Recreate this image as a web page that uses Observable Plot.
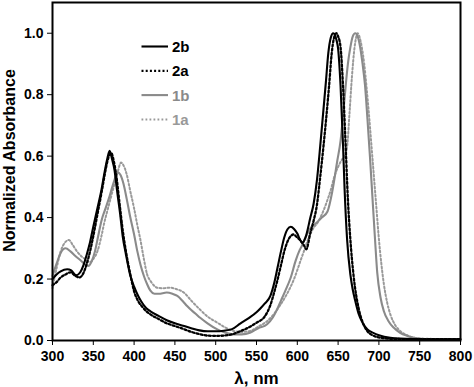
<!DOCTYPE html>
<html>
<head>
<meta charset="utf-8">
<script src="https://cdn.jsdelivr.net/npm/d3@7"></script>
<script src="https://cdn.jsdelivr.net/npm/@observablehq/plot@0.6"></script>
<style>
  html, body { margin: 0; padding: 0; background: #fff; }
  #chart { width: 474px; height: 387px; }
</style>
</head>
<body>
<div id="chart"></div>
<script>
// ---- Data ----
const seriesNames = ["2b", "2a", "1b", "1a"];

const lambda2b = [300,305,310,318,323,329,334,338,342,346,350,355,360,364,367,370,373,376,379,383,386,390,395,400,405,410,415,420,430,440,450,460,470,480,490,500,510,520,530,540,550,555,560,567,572,576,580,584,588,592,596,600,603,606,610,616,620,624,628,632,635,638,641,644,646,648,650,653,656,658,661,665,668,671,675,680,686,693,700,714,742,770,800];
const abs2b    = [0.200,0.215,0.225,0.232,0.228,0.212,0.222,0.245,0.280,0.320,0.370,0.430,0.490,0.550,0.590,0.617,0.590,0.555,0.490,0.410,0.340,0.280,0.215,0.175,0.145,0.122,0.105,0.095,0.080,0.066,0.056,0.048,0.040,0.033,0.030,0.030,0.032,0.037,0.055,0.072,0.092,0.105,0.120,0.145,0.190,0.240,0.290,0.335,0.362,0.370,0.363,0.348,0.330,0.318,0.335,0.400,0.445,0.520,0.630,0.750,0.840,0.935,0.985,1.000,0.995,0.978,0.950,0.830,0.640,0.490,0.330,0.215,0.165,0.129,0.088,0.058,0.036,0.025,0.017,0.009,0.005,0.004,0.004];

const lambda2a = [300,305,310,316,322,328,333,338,342,346,350,355,360,364,367,370,372,375,378,382,386,390,395,400,405,410,415,420,430,440,450,460,470,480,490,500,510,520,530,540,550,560,567,572,576,580,584,588,592,595,600,604,608,611,616,620,624,628,632,636,639,642,645,648,650,653,656,659,662,665,669,675,680,686,693,702,720,760,800];
const abs2a    = [0.180,0.190,0.205,0.215,0.222,0.210,0.205,0.220,0.250,0.290,0.340,0.410,0.480,0.540,0.580,0.605,0.610,0.585,0.540,0.450,0.360,0.290,0.220,0.160,0.128,0.110,0.095,0.085,0.070,0.056,0.047,0.038,0.028,0.021,0.016,0.015,0.016,0.020,0.030,0.042,0.058,0.078,0.115,0.160,0.200,0.245,0.290,0.322,0.340,0.345,0.335,0.325,0.310,0.297,0.350,0.390,0.440,0.530,0.630,0.740,0.830,0.930,0.985,1.000,0.990,0.955,0.830,0.650,0.460,0.330,0.210,0.107,0.060,0.030,0.016,0.009,0.005,0.004,0.004];

const lambda1b = [300,305,310,316,322,328,334,340,344,348,352,356,360,365,370,375,380,383,387,391,395,400,404,408,412,416,420,425,430,440,447,453,460,465,470,475,481,490,502,512,522,532,542,552,563,570,575,580,585,592,598,603,606,610,616,624,630,637,643,649,653,656,659,662,665,668,671,674,677,680,683,686,689,692,695,698,702,706,712,718,726,735,745,755,800];
const abs1b    = [0.210,0.250,0.285,0.300,0.290,0.275,0.262,0.248,0.243,0.258,0.290,0.340,0.390,0.430,0.470,0.515,0.547,0.540,0.510,0.460,0.405,0.345,0.290,0.245,0.210,0.183,0.162,0.152,0.152,0.156,0.152,0.145,0.127,0.112,0.099,0.088,0.074,0.056,0.036,0.025,0.020,0.020,0.025,0.040,0.053,0.075,0.100,0.130,0.160,0.205,0.260,0.295,0.310,0.335,0.365,0.384,0.400,0.420,0.487,0.585,0.650,0.730,0.820,0.900,0.954,0.990,1.000,0.990,0.955,0.900,0.830,0.720,0.600,0.470,0.340,0.220,0.140,0.096,0.062,0.042,0.025,0.015,0.008,0.005,0.004];

const lambda1a = [300,305,310,315,320,325,330,335,340,346,350,355,360,363,368,372,375,380,384,387,391,395,400,404,408,412,416,420,424,428,436,444,452,461,470,481,490,502,512,522,532,542,552,563,571,579,587,596,604,608,614,620,624,630,636,641,645,650,655,658,661,664,667,670,672,674,676,679,682,685,688,691,694,697,700,703,706,710,714,720,726,734,742,755,800];
const abs1a    = [0.170,0.235,0.290,0.318,0.327,0.310,0.290,0.275,0.265,0.255,0.265,0.290,0.340,0.378,0.430,0.470,0.500,0.550,0.579,0.570,0.540,0.490,0.430,0.375,0.324,0.265,0.215,0.194,0.180,0.172,0.170,0.172,0.167,0.156,0.130,0.100,0.078,0.058,0.042,0.031,0.028,0.031,0.045,0.063,0.085,0.115,0.150,0.200,0.260,0.290,0.335,0.367,0.380,0.410,0.450,0.490,0.530,0.565,0.590,0.600,0.630,0.740,0.860,0.950,0.985,1.000,0.990,0.955,0.900,0.820,0.730,0.630,0.530,0.430,0.330,0.250,0.185,0.125,0.085,0.050,0.031,0.018,0.010,0.006,0.004];

const xTicks = [300,350,400,450,500,550,600,650,700,750,800];
const yTicks = [0.0,0.2,0.4,0.6,0.8,1.0];
const xLabel = "λ, nm";
const yLabel = "Normalized Absorbance";

// ---- Build tidy table ----
const lambdas = {"2b": lambda2b, "2a": lambda2a, "1b": lambda1b, "1a": lambda1a};
const values  = {"2b": abs2b,    "2a": abs2a,    "1b": abs1b,    "1a": abs1a};
const data = seriesNames.flatMap(s => lambdas[s].map((l, i) => ({series: s, lambda: l, abs: values[s][i]})));

const styles = {
  "2b": {stroke: "#000000", strokeWidth: 2.1, dash: null},
  "2a": {stroke: "#000000", strokeWidth: 2.3, dash: "2,2.2"},
  "1b": {stroke: "#8a8a8a", strokeWidth: 2.1, dash: null},
  "1a": {stroke: "#999999", strokeWidth: 2.0, dash: "1.8,2.2"}
};

const font = "'Liberation Sans', Arial, Helvetica, sans-serif";

function legendMark(index, scales, vals, dims) {
  const g = d3.create("svg:g");
  const x0 = 141.5, x1 = 168, tx = 172, y0 = 46.5, dy = 24.3;
  seriesNames.forEach((s, i) => {
    const st = styles[s];
    const y = y0 + i * dy;
    const line = g.append("line")
      .attr("x1", x0).attr("x2", x1).attr("y1", y).attr("y2", y)
      .attr("stroke", st.stroke).attr("stroke-width", st.strokeWidth);
    if (st.dash) line.attr("stroke-dasharray", st.dash);
    g.append("text")
      .attr("x", tx).attr("y", y).attr("dy", "0.36em")
      .attr("text-anchor", "start")
      .attr("fill", st.stroke)
      .attr("font-size", 15).attr("font-weight", "bold")
      .attr("font-family", font)
      .text(s);
  });
  return g.node();
}

const lineMarks = seriesNames.map(s => Plot.line(data.filter(d => d.series === s), {
  x: "lambda", y: "abs",
  stroke: styles[s].stroke,
  strokeWidth: styles[s].strokeWidth,
  strokeDasharray: styles[s].dash || undefined,
  curve: "monotone-x",
  strokeLinejoin: "round"
}));

const chart = Plot.plot({
  width: 474,
  height: 387,
  marginLeft: 52,
  marginRight: 14,
  marginTop: 2,
  marginBottom: 47,
  style: {fontFamily: font, fontWeight: "bold", background: "#fff", overflow: "visible"},
  x: {domain: [300, 800]},
  y: {domain: [0, 1.1]},
  marks: [
    ...lineMarks.slice().reverse(),
    Plot.frame({stroke: "#000", strokeWidth: 2}),
    Plot.axisX({ticks: xTicks, tickSize: 5, tickPadding: 6, fontSize: 14, fontWeight: "bold", label: null, tickFormat: d3.format("d")}),
    Plot.axisY({ticks: yTicks, tickSize: 5, tickPadding: 4, fontSize: 14, fontWeight: "bold", label: null, tickFormat: d3.format(".1f")}),
    Plot.text([xLabel], {frameAnchor: "bottom", dy: 37.6, lineAnchor: "middle", textAnchor: "middle", fontSize: 17, fontWeight: "bold", text: d => d}),
    Plot.text([yLabel], {frameAnchor: "left", dx: -43, dy: -11, rotate: -90, lineAnchor: "middle", textAnchor: "middle", fontSize: 16, fontWeight: "bold", text: d => d}),
    legendMark
  ]
});

document.getElementById("chart").appendChild(chart);
</script>
</body>
</html>
